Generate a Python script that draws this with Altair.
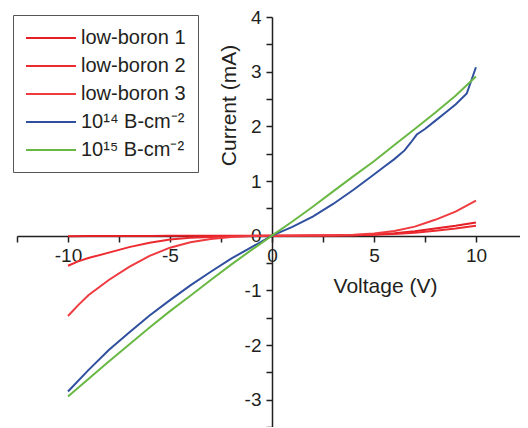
import altair as alt
import pandas as pd

series_names = ["low-boron 1", "low-boron 2", "low-boron 3", "10¹⁴ B-cm⁻²", "10¹⁵ B-cm⁻²"]
series_colors = ["#e41f26", "#ec2a2f", "#ef3b40", "#30509f", "#69b844"]

lb1_v = [-10, -9, -8, -7, -6, -5, -4, -3, -2, -1, 0, 1, 2, 3, 4, 5, 6, 7, 8, 9, 10]
lb1_i = [-0.01, -0.008, -0.006, -0.005, -0.004, -0.003, -0.002, -0.001, -0.001, 0, 0,
         0, 0.002, 0.004, 0.008, 0.02, 0.045, 0.08, 0.13, 0.18, 0.24]

lb2_v = [-10, -9.5, -9, -8, -7, -6, -5, -4, -3, -2, -1, 0, 1, 2, 3, 4, 5, 6, 7, 8, 9, 10]
lb2_i = [-0.55, -0.47, -0.41, -0.31, -0.21, -0.13, -0.07, -0.04, -0.025, -0.012, -0.004, 0,
         0, 0.002, 0.004, 0.008, 0.015, 0.03, 0.055, 0.09, 0.13, 0.18]

lb3_v = [-10, -9.5, -9, -8, -7, -6, -5, -4, -3, -2, -1, 0, 1, 2, 3, 4, 5, 6, 7, 8, 9, 10]
lb3_i = [-1.47, -1.27, -1.09, -0.81, -0.57, -0.37, -0.22, -0.12, -0.06, -0.025, -0.008, 0,
         0.001, 0.003, 0.008, 0.018, 0.04, 0.085, 0.165, 0.29, 0.44, 0.64]

b14_v = [-10, -9, -8, -7, -6, -5, -4, -3, -2, -1, 0, 1, 2, 3, 4, 5, 5.5, 6, 6.5, 6.8,
         7.1, 7.5, 8, 8.5, 9, 9.55, 10]
b14_i = [-2.85, -2.46, -2.09, -1.77, -1.46, -1.18, -0.91, -0.66, -0.42, -0.21, 0, 0.16,
         0.35, 0.58, 0.84, 1.12, 1.26, 1.40, 1.56, 1.70, 1.85, 1.95, 2.10, 2.25, 2.40,
         2.60, 3.08]

b15_v = [-10, -9, -8, -7, -6, -5, -4, -3, -2, -1, 0, 1, 2, 3, 4, 5, 6, 7, 8, 9, 10]
b15_i = [-2.94, -2.62, -2.30, -1.99, -1.68, -1.38, -1.10, -0.81, -0.53, -0.26, 0,
         0.26, 0.53, 0.81, 1.09, 1.36, 1.66, 1.95, 2.25, 2.56, 2.91]

x_ticks = [-12.5, -10, -7.5, -5, -2.5, 0, 2.5, 5, 7.5, 10]
y_ticks = [-3.5, -3, -2.5, -2, -1.5, -1, -0.5, 0, 0.5, 1, 1.5, 2, 2.5, 3, 3.5, 4]

rows = []
for name, vs, cs in zip(series_names,
                        [lb1_v, lb2_v, lb3_v, b14_v, b15_v],
                        [lb1_i, lb2_i, lb3_i, b14_i, b15_i]):
    for k, (v, c) in enumerate(zip(vs, cs)):
        rows.append({"series": name, "V": v, "I": c, "k": k})
df = pd.DataFrame(rows)

ink = "#231f20"
font = "Liberation Sans"

x_axis = alt.Axis(
    values=x_ticks, labelExpr="abs(datum.value % 5) < 0.01 ? '' + datum.value : ''",
    offset=-191, grid=False, domainColor=ink, domainWidth=1.5, tickColor=ink,
    tickWidth=1.5, tickSize=6, labelFont=font, labelFontSize=19, labelColor=ink,
    labelPadding=4, labelFlush=False, labelOverlap=False,
    title="Voltage (V)", titleFont=font, titleFontSize=21, titleFontWeight="normal",
    titleColor=ink, titleX=368, titleY=50, titleBaseline="middle", titleAlign="center",
)
y_axis = alt.Axis(
    values=y_ticks, labelExpr="datum.value % 1 == 0 ? '' + datum.value : ''",
    offset=-255, grid=False, domainColor=ink, domainWidth=1.5, tickColor=ink,
    tickWidth=1.5, tickSize=6, labelFont=font, labelFontSize=19, labelColor=ink,
    labelPadding=5, labelFlush=False, labelOverlap=False,
    title="Current (mA)", titleFont=font, titleFontSize=21, titleFontWeight="normal",
    titleColor=ink, titleX=-43, titleY=88, titleBaseline="middle", titleAlign="center",
    titleAngle=270,
)

legend = alt.Legend(
    title=None, orient="none", legendX=-4, legendY=-2, padding=12, rowPadding=7,
    labelFont=font, labelFontSize=20, labelColor=ink, symbolType="M-1,0H4",
    symbolSize=400, symbolStrokeWidth=2, labelOffset=34, strokeColor="#555555",
    fillColor="white",
)

chart = alt.Chart(df).mark_line(strokeWidth=2).encode(
    x=alt.X("V:Q", scale=alt.Scale(domain=[-12.5, 12.16], nice=False, zero=False), axis=x_axis),
    y=alt.Y("I:Q", scale=alt.Scale(domain=[-3.5, 4], nice=False, zero=False), axis=y_axis),
    color=alt.Color("series:N", scale=alt.Scale(domain=series_names, range=series_colors),
                    sort=series_names, legend=legend),
    order="k:Q",
).properties(
    width=503, height=410,
    autosize=alt.AutoSizeParams(type="none"),
    padding={"left": 9, "top": 9, "right": 0, "bottom": 0},
).configure_view(stroke=None)

chart.save("out.html", embed_options={"renderer": "svg", "actions": False})
